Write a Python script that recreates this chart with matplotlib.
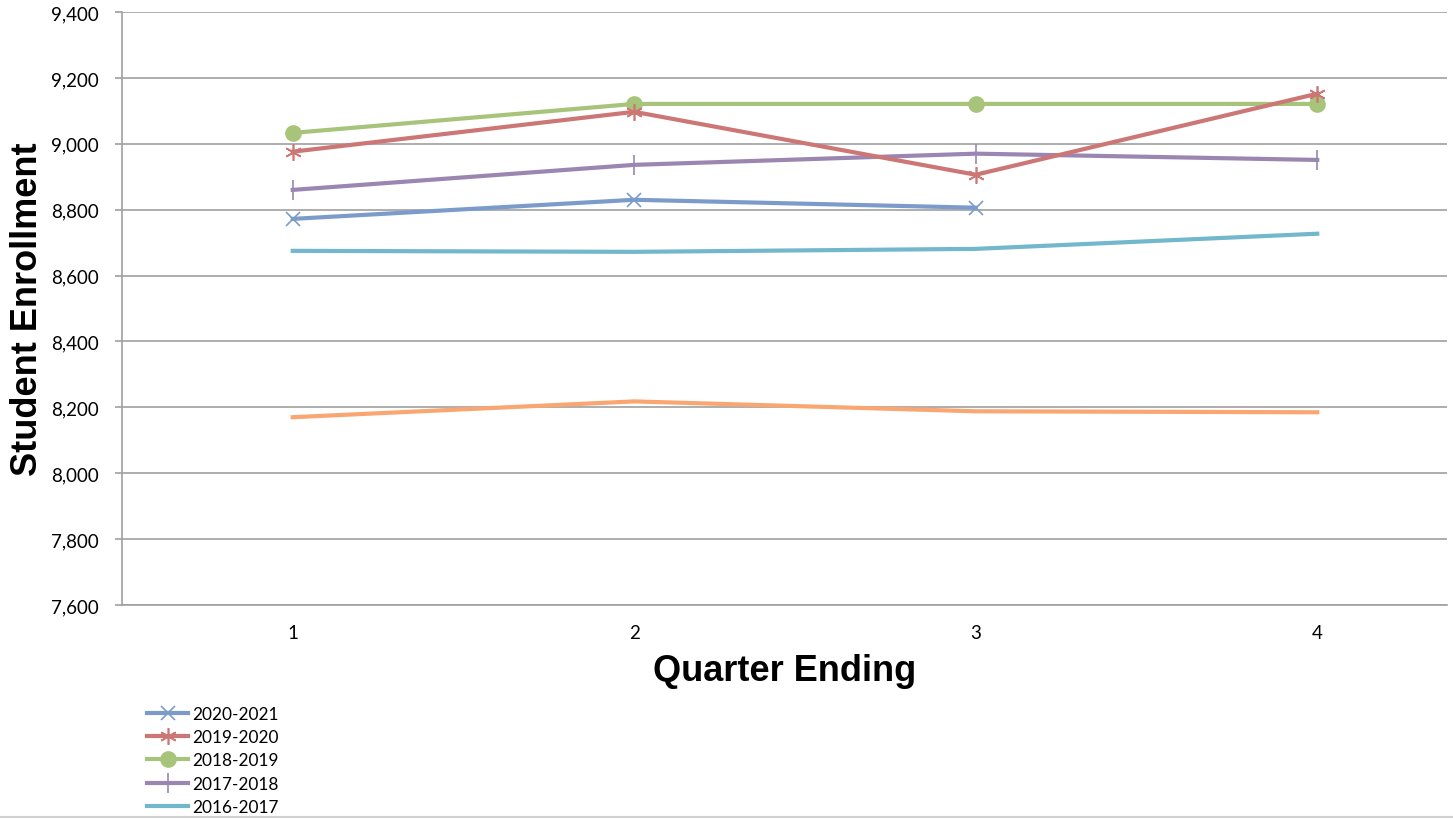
import matplotlib
matplotlib.use("Agg")
import matplotlib.pyplot as plt
from matplotlib.lines import Line2D
from matplotlib.ticker import FuncFormatter

quarters = [1, 2, 3, 4]
y_ticks = [7600, 7800, 8000, 8200, 8400, 8600, 8800, 9000, 9200, 9400]

s2020_2021 = [8772, 8830, 8806]
s2019_2020 = [8976, 9097, 8906, 9152]
s2018_2019 = [9033, 9121, 9121, 9121]
s2017_2018 = [8860, 8936, 8970, 8951]
s2016_2017 = [8675, 8672, 8681, 8727]
s2015_2016 = [8170, 8218, 8188, 8185]

fig = plt.figure(figsize=(14.53, 8.2), dpi=100)
ax = fig.add_axes([122/1453, 1 - 606/820, (1447-122)/1453, (606-13)/820])

tick_font = "Lato"
lw = 3.0

ax.plot(quarters[:3], s2020_2021, color="#7B9CCB", lw=lw, marker="x", ms=10, mew=1.2, label="2020-2021", zorder=5)
ax.plot(quarters, s2019_2020, color="#CC7775", lw=lw, marker=(6, 2, 0), ms=12, mew=1.2, label="2019-2020", zorder=4)
ax.plot(quarters, s2018_2019, color="#A8C47A", lw=lw, marker="o", ms=11, label="2018-2019", zorder=3)
ax.plot(quarters, s2017_2018, color="#9A86B1", lw=lw, marker="|", ms=14, mew=1.2, label="2017-2018", zorder=3)
ax.plot(quarters, s2016_2017, color="#72B7CC", lw=lw, label="2016-2017", zorder=3)
ax.plot(quarters, s2015_2016, color="#F9A672", lw=lw, zorder=3)

ax.set_xlim(0.5, 4.38)
ax.set_ylim(7600, 9400)
ax.set_yticks(y_ticks)
ax.yaxis.set_major_formatter(FuncFormatter(lambda v, p: f"{int(v):,}"))
ax.set_xticks(quarters)
ax.set_xticklabels([str(q) for q in quarters])
ax.grid(axis="y", color="#A0A0A0", lw=1.2)
ax.set_axisbelow(True)
for s in ["top", "right"]:
    ax.spines[s].set_visible(False)
for s in ["left", "bottom"]:
    ax.spines[s].set_color("#A0A0A0")
    ax.spines[s].set_linewidth(1.2)
ax.tick_params(axis="y", length=5, color="#A0A0A0", width=1.2, labelsize=13.5, pad=12)
ax.tick_params(axis="x", length=0, labelsize=13.5, pad=14)
for lab in ax.get_xticklabels() + ax.get_yticklabels():
    lab.set_fontfamily(tick_font)

ax.set_xlabel("Quarter Ending", fontsize=26, fontweight="bold", family="Liberation Sans", labelpad=8)
ax.set_ylabel("Student Enrollment", fontsize=26, fontweight="bold", family="Liberation Sans", labelpad=4)

leg = fig.legend(loc="upper left", bbox_to_anchor=(147/1453, 1 - 707/820), frameon=False,
                 prop={"family": tick_font, "size": 12.4}, handlelength=2.4, labelspacing=0.42,
                 handletextpad=0.2, borderaxespad=0, borderpad=0)

fig.add_artist(Line2D([0, 1], [1 - 818/820, 1 - 818/820], color="#D0D0D0", lw=1.5, transform=fig.transFigure))

fig.savefig("out.png", dpi=100)
